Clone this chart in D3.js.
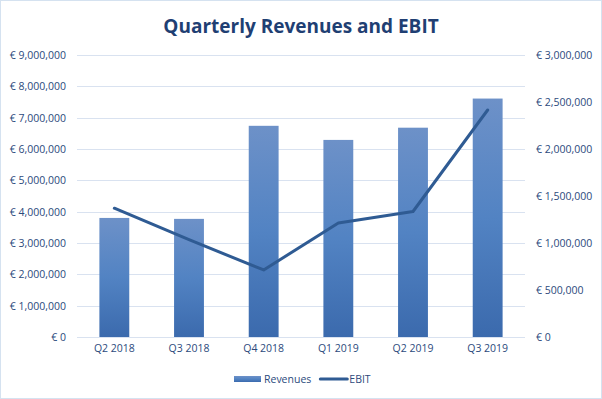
<!DOCTYPE html>
<html>
<head>
<meta charset="utf-8">
<script src="https://cdn.jsdelivr.net/npm/d3@7"></script>
<style>
  html, body { margin: 0; padding: 0; background: #fff; }
  svg { display: block; }
</style>
</head>
<body>
<div id="chart"></div>
<script>
// chart data
const quarters = ["Q2 2018", "Q3 2018", "Q4 2018", "Q1 2019", "Q2 2019", "Q3 2019"];
const revenues = [3800000, 3770000, 6740000, 6290000, 6680000, 7610000];
const ebit = [1370000, 1035000, 713000, 1213000, 1335000, 2415000];
const leftTicks = [0, 1000000, 2000000, 3000000, 4000000, 5000000, 6000000, 7000000, 8000000, 9000000];
const rightTicks = [0, 500000, 1000000, 1500000, 2000000, 2500000, 3000000];
const seriesNames = ["Revenues", "EBIT"];

const width = 602, height = 399;
const margin = {top: 55, right: 77, bottom: 62, left: 77};
const textColor = "#2c4a7c";
const fontFamily = "'Open Sans', sans-serif";

const svg = d3.select("#chart").append("svg")
    .attr("width", width)
    .attr("height", height);

// gradient for the bars
const grad = svg.append("defs").append("linearGradient")
    .attr("id", "barGrad")
    .attr("x1", "0%").attr("y1", "0%")
    .attr("x2", "0%").attr("y2", "100%");
grad.append("stop").attr("offset", "0%").attr("stop-color", "#6d91c8");
grad.append("stop").attr("offset", "50%").attr("stop-color", "#5283c3");
grad.append("stop").attr("offset", "100%").attr("stop-color", "#3b6aad");

// chart border
svg.append("rect")
    .attr("x", 0.5).attr("y", 0.5)
    .attr("width", width - 1).attr("height", height - 1)
    .attr("fill", "#fff")
    .attr("stroke", "#d5e2f0");

const x = d3.scaleBand()
    .domain(quarters)
    .range([margin.left, width - margin.right])
    .paddingInner(0.6)
    .paddingOuter(0.3);

const yLeft = d3.scaleLinear()
    .domain([0, 9000000])
    .range([height - margin.bottom, margin.top]);

const yRight = d3.scaleLinear()
    .domain([0, 3000000])
    .range([height - margin.bottom, margin.top]);

const euro = d => "€ " + (d === 0 ? "0" : d3.format(",")(d));

// gridlines
svg.append("g")
    .selectAll("line")
    .data(leftTicks)
    .join("line")
    .attr("x1", margin.left)
    .attr("x2", width - margin.right)
    .attr("y1", d => Math.round(yLeft(d)) + 0.5)
    .attr("y2", d => Math.round(yLeft(d)) + 0.5)
    .attr("stroke", "#d9e2f0")
    .attr("stroke-width", 1);

// left axis
const leftAxis = svg.append("g")
    .attr("transform", `translate(${margin.left - 11},0)`)
    .call(d3.axisLeft(yLeft).tickValues(leftTicks).tickFormat(euro).tickSize(0).tickPadding(0));
leftAxis.select(".domain").remove();

// right axis
const rightAxis = svg.append("g")
    .attr("transform", `translate(${width - margin.right + 11},0)`)
    .call(d3.axisRight(yRight).tickValues(rightTicks).tickFormat(euro).tickSize(0).tickPadding(0));
rightAxis.select(".domain").remove();

// bottom axis
const bottomAxis = svg.append("g")
    .attr("transform", `translate(0,${height - margin.bottom + 8})`)
    .call(d3.axisBottom(x).tickSize(0).tickPadding(0));
bottomAxis.select(".domain").remove();

svg.selectAll(".tick text")
    .attr("fill", textColor)
    .style("font-family", fontFamily)
    .style("font-size", "10.5px");

// bars
svg.append("g")
    .selectAll("rect")
    .data(quarters)
    .join("rect")
    .attr("x", d => x(d))
    .attr("width", x.bandwidth())
    .attr("y", (d, i) => yLeft(revenues[i]))
    .attr("height", (d, i) => yLeft(0) - yLeft(revenues[i]))
    .attr("fill", "url(#barGrad)");

// EBIT line
const line = d3.line()
    .x((d, i) => x(quarters[i]) + x.bandwidth() / 2)
    .y(d => yRight(d));

svg.append("path")
    .datum(ebit)
    .attr("d", line)
    .attr("fill", "none")
    .attr("stroke", "#2f5b93")
    .attr("stroke-width", 3)
    .attr("stroke-linejoin", "round")
    .attr("stroke-linecap", "round");

// title
svg.append("text")
    .attr("x", width / 2)
    .attr("y", 33)
    .attr("text-anchor", "middle")
    .attr("fill", "#1f3f73")
    .style("font-family", fontFamily)
    .style("font-weight", "bold")
    .style("font-size", "19px")
    .text("Quarterly Revenues and EBIT");

// legend
const legend = svg.append("g");
const ly = 379;
legend.append("rect")
    .attr("x", 0).attr("y", ly - 3)
    .attr("width", 27).attr("height", 6)
    .attr("fill", "url(#barGrad)");
const t1 = legend.append("text")
    .attr("x", 30).attr("y", ly)
    .attr("dy", "0.35em")
    .attr("fill", textColor)
    .style("font-family", fontFamily)
    .style("font-size", "10.5px")
    .text(seriesNames[0]);
const off = 30 + t1.node().getComputedTextLength() + 9;
legend.append("line")
    .attr("x1", off).attr("x2", off + 27)
    .attr("y1", ly).attr("y2", ly)
    .attr("stroke", "#2f5b93")
    .attr("stroke-width", 3)
    .attr("stroke-linecap", "round");
const t2 = legend.append("text")
    .attr("x", off + 29).attr("y", ly)
    .attr("dy", "0.35em")
    .attr("fill", textColor)
    .style("font-family", fontFamily)
    .style("font-size", "10.5px")
    .text(seriesNames[1]);
const lw = off + 29 + t2.node().getComputedTextLength();
legend.attr("transform", `translate(${Math.round(302 - lw / 2)},0)`);
</script>
</body>
</html>
